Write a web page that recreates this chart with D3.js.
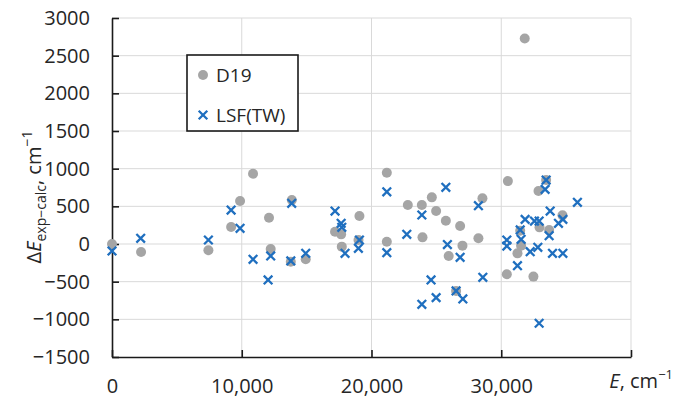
<!DOCTYPE html>
<html>
<head>
<meta charset="utf-8">
<script src="https://cdn.jsdelivr.net/npm/d3@7"></script>
<style>
  body { margin: 0; background: #fff; }
  text { font-family: "Open Sans", sans-serif; fill: #262626; }
</style>
</head>
<body>
<div id="chart"></div>
<script>
// D19 points (energy, difference)
var d19E   = [0, 2240, 7430, 9180, 9870, 10870, 12100, 12230, 13780, 13860, 14930, 17190, 17660, 17710, 19000, 19070, 21180, 21180, 22800, 23880, 23930, 24650, 24980, 25730, 25950, 26520, 26830, 27010, 28240, 28550, 30430, 30510, 31250, 31460, 31530, 31810, 32480, 32870, 32950, 33460, 33690, 34720];
var d19Val = [0, -106, -84, 225, 570, 932, 349, -66, -235, 583, -203, 163, 128, -35, 53, 371, 945, 31, 517, 517, 88, 619, 437, 309, -160, -623, 239, -22, 76, 606, -402, 835, -124, 177, -22, 2727, -433, 703, 221, 849, 186, 380];

// LSF(TW) points
var lsfE   = [0, 2210, 7430, 9180, 9870, 10870, 12030, 12230, 13780, 13850, 14930, 17190, 17660, 17710, 17960, 18990, 19070, 21180, 21180, 22720, 23880, 23880, 24590, 24980, 25730, 25850, 26520, 26830, 27040, 28240, 28580, 30430, 30430, 31250, 31460, 31530, 31840, 32230, 32560, 32820, 32920, 32920, 33380, 33460, 33690, 33770, 33950, 34410, 34750, 34750, 35870];
var lsfVal = [-93, 75, 53, 451, 208, -203, -477, -159, -225, 540, -124, 437, 274, 221, -124, -57, 53, 693, -115, 128, 385, -800, -477, -712, 752, -8, -623, -177, -729, 508, -442, 53, -27, -288, 186, 62, 327, -102, 305, -44, 305, -1052, 725, 849, 110, 437, -124, 274, 327, -124, 553];

var xTicks = [0, 10000, 20000, 30000, 40000];
var yTicks = [-1500, -1000, -500, 0, 500, 1000, 1500, 2000, 2500, 3000];

var width = 676, height = 398;
var margin = {top: 18, right: 45, bottom: 41, left: 112};

var svg = d3.select("#chart").append("svg")
    .attr("width", width)
    .attr("height", height);

var x = d3.scaleLinear().domain([0, 40000]).range([margin.left, width - margin.right]);
var y = d3.scaleLinear().domain([-1500, 3000]).range([height - margin.bottom, margin.top]);

var fmtX = d3.format(",");
var fmtY = d3.format("d");

// gridlines
svg.append("g").selectAll("line.h")
    .data(yTicks.slice(1))
    .enter().append("line")
    .attr("x1", x(0)).attr("x2", x(40000))
    .attr("y1", function(d) { return y(d); })
    .attr("y2", function(d) { return y(d); })
    .attr("stroke", "#d9d9d9").attr("stroke-width", 1);

svg.append("g").selectAll("line.v")
    .data(xTicks.slice(1))
    .enter().append("line")
    .attr("y1", y(-1500)).attr("y2", y(3000))
    .attr("x1", function(d) { return x(d); })
    .attr("x2", function(d) { return x(d); })
    .attr("stroke", "#d9d9d9").attr("stroke-width", 1);

// axes
var yAxis = svg.append("g")
    .attr("transform", "translate(" + x(0) + ",0)")
    .call(d3.axisLeft(y).tickValues(yTicks).tickFormat(fmtY).tickSizeInner(-7).tickSizeOuter(0).tickPadding(22));

var xAxis = svg.append("g")
    .attr("transform", "translate(0," + y(-1500) + ")")
    .call(d3.axisBottom(x).tickValues(xTicks)
        .tickFormat(function(d) { return d === 40000 ? "" : fmtX(d); })
        .tickSizeInner(-7).tickSizeOuter(0).tickPadding(22));

[yAxis, xAxis].forEach(function(a) {
  a.select(".domain").attr("stroke", "#1a1a1a").attr("stroke-width", 1.6);
  a.selectAll(".tick line").attr("stroke", "#1a1a1a").attr("stroke-width", 1.6);
  a.selectAll(".tick text").style("font-size", "20px").style("font-family", "'Open Sans', sans-serif").attr("fill", "#262626");
});

// D19 markers
svg.append("g").selectAll("circle")
    .data(d19E)
    .enter().append("circle")
    .attr("cx", function(d) { return x(d); })
    .attr("cy", function(d, i) { return y(d19Val[i]); })
    .attr("r", 5)
    .attr("fill", "#a5a5a5");

// LSF(TW) markers
var cs = 4.3;
var cross = function(g, cx, cy) {
  g.append("path")
    .attr("d", "M" + (cx - cs) + "," + (cy - cs) + "L" + (cx + cs) + "," + (cy + cs) +
               "M" + (cx - cs) + "," + (cy + cs) + "L" + (cx + cs) + "," + (cy - cs))
    .attr("stroke", "#1f6fbf").attr("stroke-width", 2.3).attr("fill", "none");
};
var lsfG = svg.append("g");
lsfE.forEach(function(e, i) { cross(lsfG, x(e), y(lsfVal[i])); });

// legend
var lg = svg.append("g");
lg.append("rect")
    .attr("x", 187).attr("y", 55).attr("width", 111).attr("height", 76)
    .attr("fill", "#fff").attr("stroke", "#1a1a1a").attr("stroke-width", 1.6);
lg.append("circle").attr("cx", 203).attr("cy", 75).attr("r", 5).attr("fill", "#a5a5a5");
lg.append("text").attr("x", 216).attr("y", 82).style("font-size", "19px").text("D19");
cross(lg, 203, 115);
lg.append("text").attr("x", 216).attr("y", 122).style("font-size", "19px").text("LSF(TW)");

// axis titles
var xt = svg.append("text")
    .attr("x", 673).attr("y", 388)
    .attr("text-anchor", "end")
    .style("font-size", "20px");
xt.append("tspan").style("font-style", "italic").text("E");
xt.append("tspan").text(", cm");
xt.append("tspan").attr("dy", -9).style("font-size", "13px").text("\u22121");

var yt = svg.append("text")
    .attr("transform", "translate(41,197) rotate(-90)")
    .attr("text-anchor", "middle")
    .style("font-size", "20px");
yt.append("tspan").text("\u0394");
yt.append("tspan").style("font-style", "italic").text("E");
yt.append("tspan").attr("dy", 5).style("font-size", "14px").text("exp\u2212calc");
yt.append("tspan").attr("dy", -5).text(", cm");
yt.append("tspan").attr("dy", -9).style("font-size", "14px").text("\u22121");
</script>
</body>
</html>
